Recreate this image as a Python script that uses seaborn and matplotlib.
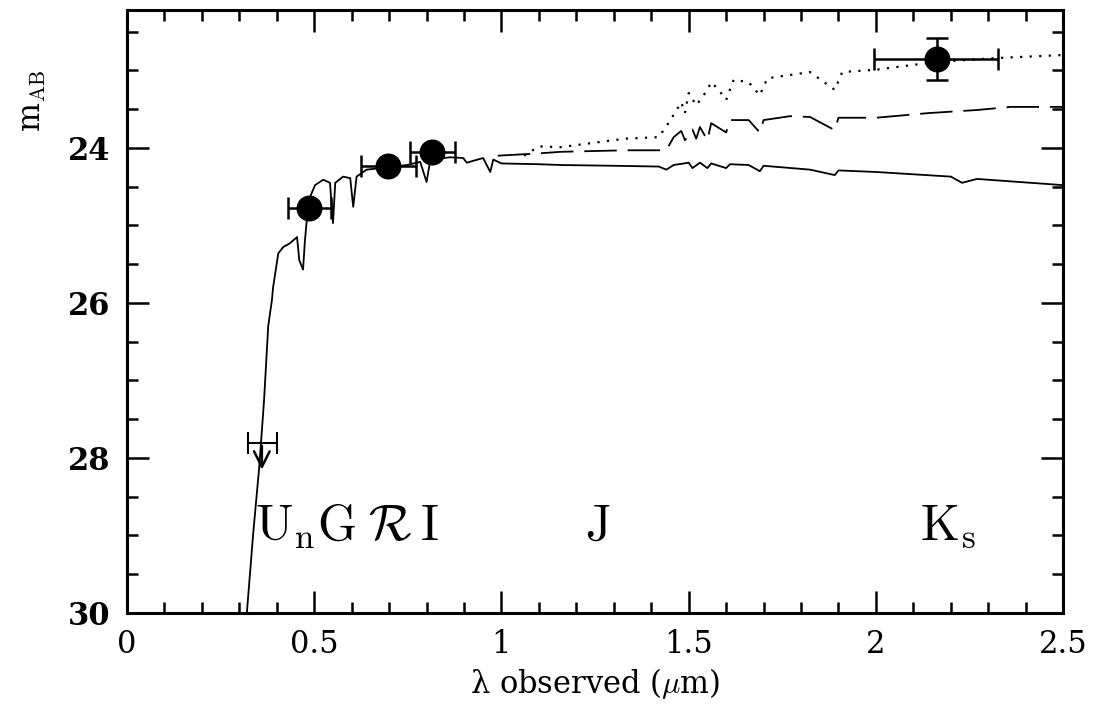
import numpy as np
import pandas as pd
import seaborn as sns
import matplotlib.pyplot as plt
from matplotlib.ticker import MultipleLocator

# model spectrum, blue part (common to the three models)
wl_blue = [0.305, 0.32, 0.337, 0.353, 0.366, 0.377, 0.387, 0.39, 0.404, 0.417, 0.435,
           0.454, 0.46, 0.47, 0.475, 0.48, 0.489, 0.502, 0.524, 0.542, 0.55, 0.556,
           0.577, 0.596, 0.604, 0.613, 0.64, 0.676, 0.748, 0.783, 0.80, 0.81, 0.863,
           0.898, 0.907, 0.951, 0.97, 0.978]
mag_blue = [30.3, 30.0, 28.97, 28.12, 27.25, 26.3, 25.96, 25.8, 25.36, 25.28, 25.23,
            25.15, 25.45, 25.57, 25.2, 24.93, 24.63, 24.48, 24.41, 24.45, 24.97, 24.45,
            24.37, 24.39, 24.76, 24.37, 24.28, 24.26, 24.22, 24.18, 24.44, 24.15, 24.12,
            24.13, 24.19, 24.13, 24.31, 24.15]

# red part, young model (solid)
wl_solid = [1.0, 1.1, 1.157, 1.3, 1.42, 1.44, 1.46, 1.5, 1.51, 1.53, 1.55, 1.56, 1.6, 1.61,
            1.66, 1.69, 1.70, 1.824, 1.89, 1.90, 2.0, 2.2, 2.23, 2.27, 2.5]
mag_solid = [24.2, 24.21, 24.22, 24.23, 24.24, 24.28, 24.22, 24.19, 24.26, 24.19, 24.26,
             24.2, 24.26, 24.21, 24.22, 24.3, 24.23, 24.28, 24.35, 24.29, 24.31, 24.37,
             24.45, 24.4, 24.48]

# red part, intermediate model (dashed)
wl_dash = [0.99, 1.1, 1.157, 1.33, 1.44, 1.46, 1.48, 1.49, 1.51, 1.52, 1.53, 1.55, 1.56,
           1.6, 1.61, 1.66, 1.69, 1.70, 1.77, 1.824, 1.89, 1.90, 2.0, 2.14, 2.27, 2.36, 2.5]
mag_dash = [24.1, 24.07, 24.05, 24.03, 24.03, 23.86, 23.78, 23.9, 23.76, 23.88, 23.73,
            23.9, 23.68, 23.8, 23.64, 23.64, 23.8, 23.64, 23.59, 23.6, 23.77, 23.61, 23.61,
            23.55, 23.51, 23.47, 23.47]

# red part, old model (dotted)
wl_dot = [1.06, 1.1, 1.157, 1.33, 1.42, 1.45, 1.48, 1.49, 1.50, 1.52, 1.55, 1.56, 1.58,
          1.60, 1.62, 1.66, 1.69, 1.71, 1.74, 1.824, 1.89, 1.91, 2.0, 2.16, 2.32, 2.5]
mag_dot = [24.1, 23.98, 23.99, 23.88, 23.86, 23.65, 23.41, 23.55, 23.29, 23.45, 23.25,
           23.15, 23.25, 23.38, 23.12, 23.15, 23.32, 23.1, 23.08, 23.02, 23.25, 23.02,
           22.99, 22.89, 22.84, 22.8]

# photometry (G, R, I, Ks)
phot_wl = [0.487, 0.698, 0.814, 2.163]
phot_mag = [24.78, 24.23, 24.05, 22.85]
phot_wl_lo = [0.429, 0.625, 0.756, 1.995]
phot_wl_hi = [0.546, 0.771, 0.876, 2.326]
phot_mag_err = [0.0, 0.0, 0.0, 0.27]

# Un upper limit
un_wl, un_lo, un_hi, un_mag, un_arrow = 0.36, 0.324, 0.401, 27.81, 28.19

band_labels = [r"$\mathrm{U_nG}$", r"$\mathcal{R}$", r"$\mathrm{I}$", r"$\mathrm{J}$", r"$\mathrm{K_s}$"]
band_x = [0.342, 0.644, 0.783, 1.223, 2.118]
band_y = 29.06

sns.set_theme(style="ticks")
plt.rcParams['font.family'] = ['DejaVu Serif']
plt.rcParams['mathtext.fontset'] = 'cm'
plt.rcParams['text.color'] = 'black'
plt.rcParams['axes.labelcolor'] = 'black'
plt.rcParams['xtick.color'] = 'black'
plt.rcParams['ytick.color'] = 'black'

models = []
for name, wl, mag in [("solid", wl_solid, mag_solid), ("dash", wl_dash, mag_dash), ("dot", wl_dot, mag_dot)]:
    if name == "solid":
        w, m = wl_blue + wl, mag_blue + mag
    else:
        w, m = wl, mag
    models.append(pd.DataFrame({"wl": w, "mag": m, "model": name}))

fig = plt.figure(figsize=(11, 7.2), dpi=100)
ax = fig.add_axes([0.1155, 0.149, 0.851, 0.837])

styles = {"solid": "-", "dash": (0, (18, 6)), "dot": (0, (1, 3.3))}
for df in models:
    nm = df["model"].iloc[0]
    sns.lineplot(data=df, x="wl", y="mag", sort=False, estimator=None, color="black",
                 linewidth=1.3 if nm != "dot" else 1.6, linestyle=styles[nm], ax=ax)

xerr = [np.array(phot_wl) - np.array(phot_wl_lo), np.array(phot_wl_hi) - np.array(phot_wl)]
ax.errorbar(phot_wl, phot_mag, xerr=xerr, yerr=phot_mag_err, fmt="none", ecolor="black",
            elinewidth=1.8, capsize=8, capthick=1.8)
sns.scatterplot(x=phot_wl, y=phot_mag, s=300, color="black", edgecolor="black", ax=ax, zorder=5)

ax.errorbar([un_wl], [un_mag], xerr=[[un_wl - un_lo], [un_hi - un_wl]], fmt="none",
            ecolor="black", elinewidth=1.5, capsize=8, capthick=1.5)
ax.annotate("", xy=(un_wl, un_arrow), xytext=(un_wl, un_mag),
            arrowprops=dict(arrowstyle="->", lw=1.8, color="black", mutation_scale=28))

for lab, x in zip(band_labels, band_x):
    ax.text(x, band_y, lab, fontsize=36, ha="left", va="baseline", color="black")

ax.set_xlim(0, 2.5)
ax.set_ylim(30, 22.22)
ax.set_xticks([0, 0.5, 1, 1.5, 2, 2.5], labels=["0", "0.5", "1", "1.5", "2", "2.5"])
ax.set_yticks([24, 26, 28, 30])
ax.xaxis.set_minor_locator(MultipleLocator(0.1))
ax.yaxis.set_minor_locator(MultipleLocator(0.5))
ax.tick_params(which="both", direction="in", top=True, right=True, width=1.8, color="black")
ax.tick_params(which="major", length=16)
ax.tick_params(which="minor", length=8)
ax.tick_params(axis="x", labelsize=22, pad=12)
ax.tick_params(axis="y", labelsize=22, pad=12)
for lab in ax.get_yticklabels():
    lab.set_fontweight("bold")
for sp in ax.spines.values():
    sp.set_linewidth(2.2)
    sp.set_color("black")

ax.set_xlabel("λ observed ($\\mu$m)", fontsize=22, labelpad=4)
ax.set_ylabel(r"m$_{\rm AB}$", fontsize=22)
ax.yaxis.set_label_coords(-0.084, 0.85)

fig.savefig("out.png", dpi=100)
